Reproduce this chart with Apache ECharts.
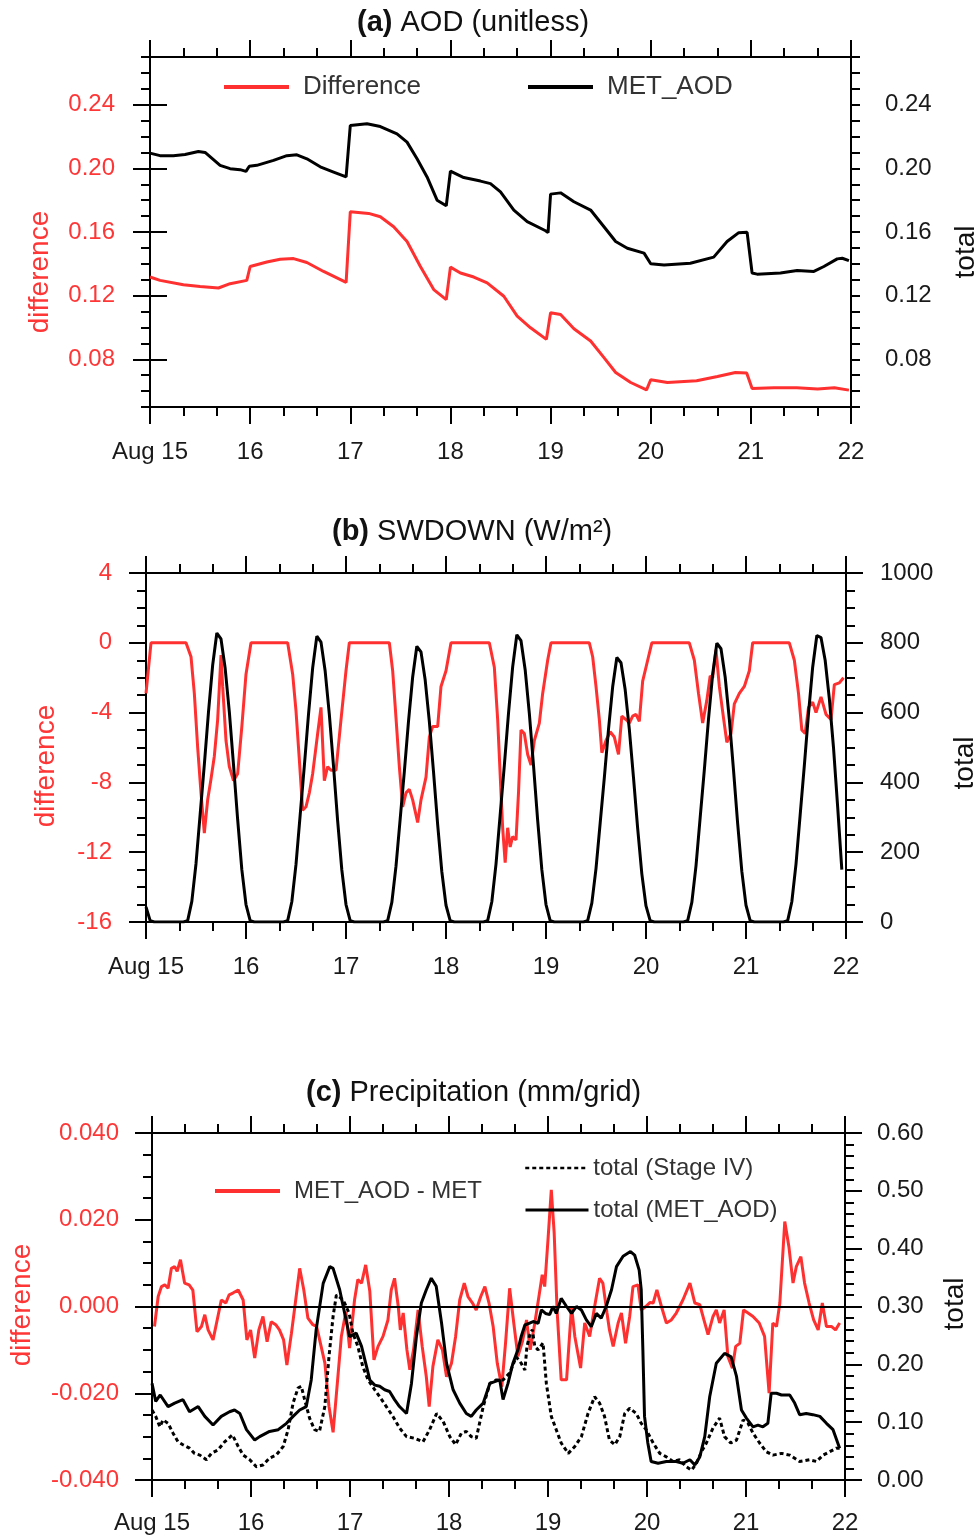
<!DOCTYPE html>
<html><head><meta charset="utf-8">
<script src="https://cdn.jsdelivr.net/npm/echarts@6/dist/echarts.min.js"></script>
<style>html,body{margin:0;padding:0;background:#fff}#c{width:979px;height:1538px}</style>
</head><body><div id="c"></div><script>
// ---------- tick labels ----------
const dayLabels = ['Aug 15','16','17','18','19','20','21','22'];
const aodTicks = [0.08, 0.12, 0.16, 0.20, 0.24];

// ---------- (a) AOD : [hour since Aug 15 00Z, value] ----------
const aodDiff = [[0,0.1317],[2.4,0.1296],[8,0.1269],[12,0.1258],[16.4,0.1248],[19.2,0.1275],[23.2,0.1296],[24,0.1383],[28,0.1411],[31.2,0.1429],[34.4,0.1433],[37.6,0.1408],[41.6,0.1352],[47,0.1283],[48,0.1727],[52.4,0.1717],[55.2,0.1696],[58.4,0.1633],[61.6,0.154],[64.8,0.1383],[68,0.1238],[71,0.1175],[72,0.1379],[74.4,0.1342],[77.6,0.1317],[80.8,0.128],[84.8,0.1196],[88,0.1071],[91.2,0.0998],[95,0.0925],[96,0.1092],[98.4,0.1081],[101.6,0.0992],[105.6,0.0915],[108.8,0.081],[111.6,0.0717],[115.2,0.0654],[119,0.0608],[120,0.0671],[124,0.0654],[131,0.0665],[136,0.0692],[140.3,0.0717],[143,0.0713],[144.3,0.0617],[149.5,0.0621],[155,0.0621],[160,0.0613],[164,0.0621],[167.5,0.0606]];
const aodMet = [[0,0.2096],[2.4,0.208],[5.6,0.208],[8.4,0.2087],[11.6,0.2106],[13.2,0.21],[16.8,0.2019],[19.2,0.1998],[21.6,0.1992],[23,0.1981],[23.8,0.2013],[25.6,0.2019],[29.6,0.205],[32.8,0.208],[35.2,0.2085],[37.6,0.206],[40.8,0.201],[44,0.1977],[47,0.1946],[48,0.2269],[52,0.228],[55.2,0.2263],[59.2,0.2217],[61.6,0.2165],[64,0.206],[66.4,0.1946],[68.8,0.18],[71,0.1765],[72,0.1983],[75.2,0.1942],[79.2,0.192],[81.6,0.1904],[84,0.1852],[87.2,0.1738],[90.4,0.1665],[94.8,0.1608],[95.4,0.1596],[96,0.1838],[98.4,0.1846],[101.6,0.179],[105.6,0.1738],[108.8,0.1633],[111.6,0.154],[114.4,0.1498],[118.4,0.1467],[120,0.14],[123.2,0.1392],[129.5,0.1404],[135.1,0.1442],[138.3,0.154],[141.1,0.1596],[143.1,0.1598],[144.3,0.1342],[145.5,0.1335],[151.1,0.1342],[155.1,0.1358],[159.1,0.1352],[161.5,0.1383],[164.7,0.1431],[165.9,0.1435],[167.5,0.142]];

// ---------- (b) SWDOWN ----------
const swDiff = [[0,-2.9],[1.2,0],[9.6,0],[10.8,-0.8],[11.6,-2.9],[12.4,-6.0],[13.2,-8.6],[14,-10.9],[14.8,-9.0],[15.6,-7.8],[16.4,-6.5],[17.2,-4.4],[18,-0.7],[18.4,-2.5],[19.2,-5.6],[20,-7.1],[21,-7.9],[22,-7.5],[23,-4.8],[24,-1.8],[25.2,0],
[34,0],[35.2,-1.8],[36,-3.9],[36.8,-6.7],[37.6,-9.6],[38.4,-9.4],[39.2,-8.6],[40,-7.5],[41.2,-5.2],[42,-3.7],[42.8,-7.9],[43.6,-7.1],[44.4,-7.3],[45.6,-7.3],[46.8,-4.4],[48,-1.6],[48.8,0],
[58.4,0],[59.2,-1.6],[60,-4.3],[60.8,-7.1],[61.6,-9.4],[62.4,-8.6],[63.2,-8.4],[64,-9.0],[65.2,-10.3],[66,-9.0],[67.2,-7.7],[68,-5.4],[68.8,-4.8],[70,-4.8],[70.8,-2.5],[72,-1.6],[73.2,0],
[82.4,0],[83.6,-1.4],[84.4,-4.4],[85.2,-8.6],[85.6,-10.6],[86.2,-12.6],[86.8,-10.6],[87.4,-11.7],[88,-11.1],[88.8,-11.3],[89.4,-8.6],[90,-5.0],[90.8,-5.2],[91.6,-6.4],[92.4,-7.0],[93.2,-5.6],[94.4,-4.6],[95.2,-2.9],[96.4,-1.0],[97.2,0],
[106.4,0],[107.2,-0.8],[108,-2.5],[108.8,-4.4],[109.4,-6.3],[110.4,-5.6],[111.4,-5.1],[112.4,-5.4],[113.4,-6.4],[114.2,-4.2],[115.2,-4.4],[116,-4.6],[116.8,-4.2],[117.6,-4.1],[118.4,-4.5],[119.2,-2.2],[120.4,-1.0],[121.4,0],
[130.4,0],[131.6,-1.0],[132.6,-2.9],[133.6,-4.6],[134.6,-3.3],[135.4,-1.9],[136,-2.0],[136.8,-0.4],[137.6,-2.5],[138.6,-4.3],[139.4,-5.7],[140.4,-5.2],[141.2,-3.5],[142.4,-2.9],[143.6,-2.5],[144.8,-1.6],[145.6,0],
[154.4,0],[155.6,-1.0],[156.6,-2.9],[157.4,-5.0],[158.2,-5.2],[159,-3.7],[160,-3.4],[160.8,-4.0],[162,-3.1],[163.2,-4.1],[164.4,-4.4],[165.2,-2.4],[166.4,-2.3],[167.4,-2.0]];
// hourly, h0 .. h167
const swMet = [
43,4,0,0,0,0,0,0,0,0,4,59,167,309,451,602,736,828,811,727,602,451,293,150,
50,4,0,0,0,0,0,0,0,0,4,58,165,306,447,595,728,819,802,719,595,447,289,149,
50,4,0,0,0,0,0,0,0,0,4,56,160,295,431,575,702,790,774,694,575,431,279,144,
48,4,0,0,0,0,0,0,0,0,4,58,166,307,449,598,731,823,806,723,598,449,291,150,
50,4,0,0,0,0,0,0,0,0,4,54,153,283,414,552,674,758,743,666,552,414,268,138,
46,4,0,0,0,0,0,0,0,0,4,56,161,299,436,581,710,799,783,702,581,436,282,145,
48,4,0,0,0,0,0,0,0,0,4,58,166,307,448,597,730,821,815,750,640,500,330,150];

// ---------- (c) Precipitation ----------
const precipDiff = [[0.6,-0.0046],[1.5,0.0023],[2.3,0.0046],[3.1,0.005],[3.9,0.0042],[4.7,0.0088],[5.5,0.0092],[6.1,0.0081],[6.9,0.0108],[7.9,0.0054],[9,0.005],[9.9,0.0038],[10.9,-0.0058],[12,-0.0046],[12.8,-0.0019],[13.6,-0.0054],[14.8,-0.0077],[15.8,-0.0031],[16.8,0.0015],[17.9,0.0008],[18.7,0.0027],[19.6,0.0031],[20.9,0.0038],[22.1,0.0015],[23,-0.0077],[23.9,-0.0054],[24.9,-0.0119],[25.9,-0.0054],[26.9,-0.0023],[27.9,-0.0081],[28.9,-0.0035],[30,-0.0042],[30.9,-0.0054],[31.9,-0.0077],[32.7,-0.0135],[33.8,-0.0062],[34.8,0.0012],[35.8,0.0088],[36.8,0.0038],[37.8,-0.0027],[39,-0.0042],[39.9,-0.0046],[41.9,-0.013],[42.9,-0.023],[43.9,-0.029],[44.9,-0.018],[45.9,-0.0069],[47,-0.0012],[47.9,-0.0096],[49.1,0.0015],[49.9,0.0062],[50.8,0.0054],[51.8,0.0096],[52.8,0.0035],[53.8,-0.0123],[54.8,-0.0092],[56,-0.0069],[57.2,-0.0031],[58,0.0038],[58.8,0.0065],[59.7,0],[60.2,-0.0054],[60.9,-0.0015],[61.8,-0.01],[62.5,-0.0146],[63.4,-0.01],[64.5,-0.0008],[65.5,-0.0092],[66.5,-0.0162],[67.2,-0.0231],[68.1,-0.0138],[69.3,-0.0077],[70.4,-0.01],[71.4,-0.0162],[72.6,-0.0131],[73.6,-0.0069],[74.6,0.0015],[75.7,0.0054],[76.6,0.0023],[77.7,0.0008],[78.6,-0.0008],[79.7,0.0023],[80.7,0.0046],[81.7,0.0008],[82.7,-0.0046],[83.7,-0.0131],[84.8,-0.0185],[85.7,-0.0085],[86.7,0.0042],[87.7,-0.0038],[88.7,-0.0115],[89.8,-0.0081],[90.8,-0.0031],[91.7,-0.01],[92.8,-0.0038],[93.8,0.0023],[94.6,0.0073],[95.2,0.0046],[96,0.0154],[96.8,0.0269],[97.5,0.0169],[98.2,-0.0008],[99.2,-0.0169],[100.5,-0.0169],[101.7,0],[102.5,-0.0069],[103.9,-0.0142],[104.9,-0.0038],[106.1,-0.0069],[107.3,0],[108.5,0.0065],[109.3,0.0054],[110.3,-0.0015],[110.9,-0.0054],[111.8,-0.0092],[113,-0.0038],[113.8,-0.0015],[114.8,-0.0085],[115.8,-0.0023],[116.6,0.0046],[117.8,0.005],[118.6,-0.0008],[119.7,0],[120.7,0.0009],[121.5,0.0008],[122.4,0.0038],[123.5,0],[124.7,-0.0038],[125.9,-0.0031],[127.1,-0.0015],[128.7,0.0015],[130.4,0.0054],[131.6,0.0008],[132.8,0.0004],[133.8,-0.0031],[134.8,-0.0065],[136,-0.0023],[136.8,-0.0008],[137.6,-0.0038],[138.7,-0.0008],[139.6,-0.0115],[140.7,-0.0142],[141.5,-0.0092],[142.5,-0.0085],[143.4,-0.0008],[144.5,-0.0015],[145.7,-0.0023],[147.2,-0.0038],[148.5,-0.0069],[149.6,-0.02],[150.5,-0.0038],[151.4,-0.0046],[152.2,0.0008],[153.4,0.0196],[154.4,0.0138],[155.4,0.0054],[156.2,0.0092],[157.3,0.0115],[158.2,0.0054],[159.3,0.0008],[160.4,-0.0031],[161.5,-0.0054],[162.5,0.0008],[163.5,-0.0046],[164.7,-0.0046],[165.7,-0.0054],[166.7,-0.0038]];
const precipMet = [[0,0.167],[0.9,0.136],[2,0.147],[3.9,0.127],[5.5,0.133],[7.5,0.139],[9.1,0.118],[11.2,0.127],[12.8,0.11],[14.8,0.095],[16.8,0.11],[18.8,0.118],[20,0.121],[21.3,0.115],[22.9,0.087],[24.9,0.069],[26.1,0.075],[28.5,0.084],[30.6,0.087],[32.6,0.098],[34.2,0.11],[35.8,0.121],[37.4,0.127],[38.6,0.173],[39.8,0.26],[41.5,0.34],[43.1,0.369],[43.9,0.366],[45.5,0.329],[47.9,0.248],[49.5,0.254],[50.8,0.231],[52.8,0.173],[54,0.164],[55.2,0.162],[56.4,0.156],[57.6,0.153],[58.8,0.139],[60,0.127],[61.7,0.115],[62.9,0.167],[64.1,0.248],[65.3,0.306],[66.5,0.329],[67.7,0.349],[68.9,0.335],[70.2,0.271],[71.4,0.202],[73,0.156],[74.6,0.133],[76.2,0.115],[77.4,0.11],[78.6,0.121],[80.3,0.133],[81.9,0.167],[83.1,0.17],[84.3,0.173],[85.1,0.139],[86.3,0.167],[87.5,0.202],[88.7,0.225],[89.5,0.248],[90.4,0.268],[91.4,0.271],[92.4,0.274],[93.6,0.271],[94.4,0.294],[95.4,0.288],[96.4,0.286],[97.2,0.30],[98,0.288],[99.2,0.314],[100.5,0.30],[101.7,0.288],[102.9,0.30],[104.1,0.294],[105.3,0.277],[106.5,0.265],[107.7,0.288],[108.9,0.28],[110.1,0.30],[111.4,0.329],[112.6,0.369],[114.2,0.387],[116,0.395],[117,0.389],[118.1,0.363],[118.6,0.329],[119,0.225],[119.4,0.11],[120.2,0.064],[121,0.032],[122.7,0.029],[124.7,0.032],[127.1,0.032],[128.7,0.029],[130.4,0.035],[131.6,0.026],[132.8,0.04],[134,0.075],[135.2,0.144],[136.8,0.202],[138.8,0.219],[140.4,0.213],[141.7,0.179],[142.9,0.121],[144.1,0.107],[145.7,0.092],[146.9,0.095],[148.1,0.092],[149.3,0.098],[150.1,0.15],[151.4,0.15],[152.6,0.147],[154.6,0.147],[155.8,0.133],[157,0.113],[158.6,0.115],[160.2,0.113],[161.9,0.11],[163.5,0.098],[165.1,0.087],[166.7,0.055]];
const precipObs = [[0,0.121],[0.9,0.11],[1.9,0.092],[2.7,0.104],[3.9,0.098],[5.1,0.081],[6.3,0.066],[7.5,0.061],[9.1,0.055],[10.3,0.046],[11.6,0.043],[13.2,0.035],[14.4,0.046],[16,0.052],[17.6,0.066],[19.5,0.078],[20.9,0.058],[22.1,0.043],[23.7,0.035],[25.3,0.023],[26.9,0.026],[28.5,0.038],[30.1,0.043],[31.8,0.058],[33,0.087],[34.2,0.133],[35.4,0.159],[36.2,0.162],[37,0.139],[38.2,0.107],[39.4,0.087],[40.6,0.084],[41.9,0.127],[42.9,0.213],[43.9,0.283],[44.7,0.32],[45.9,0.314],[46.7,0.306],[47.8,0.288],[48.7,0.254],[49.9,0.231],[51.1,0.196],[52.4,0.173],[54,0.156],[55.2,0.144],[56.8,0.127],[58.4,0.11],[60,0.09],[61.7,0.075],[63.7,0.072],[65.7,0.066],[67.3,0.087],[69,0.115],[70.6,0.101],[72.2,0.075],[73.6,0.061],[75,0.081],[76.2,0.084],[77.4,0.075],[78.6,0.072],[80.3,0.127],[81.9,0.167],[83.5,0.173],[85.1,0.173],[86.7,0.185],[88.3,0.213],[89.5,0.202],[90.4,0.19],[90.9,0.231],[91.6,0.251],[92.2,0.26],[92.8,0.231],[93.6,0.225],[94.8,0.237],[95.6,0.167],[96.8,0.11],[98,0.087],[99.2,0.064],[100.9,0.046],[102.5,0.058],[104.1,0.075],[105.7,0.115],[107.3,0.144],[108.5,0.133],[109.7,0.11],[110.9,0.069],[112.2,0.061],[113.4,0.075],[114.6,0.115],[115.8,0.124],[117.4,0.115],[118.6,0.098],[119.8,0.087],[121.5,0.064],[123.1,0.046],[124.7,0.04],[126.3,0.032],[127.9,0.035],[129.5,0.023],[130.8,0.017],[132,0.029],[133.2,0.049],[134.4,0.064],[136,0.09],[137.6,0.107],[138.8,0.075],[140.3,0.064],[141.7,0.069],[143.3,0.104],[144.5,0.098],[145.7,0.081],[147.3,0.064],[148.9,0.049],[150.5,0.043],[152.6,0.046],[154.6,0.043],[157,0.032],[159.4,0.035],[161.1,0.032],[162.7,0.043],[164.3,0.049],[165.9,0.055],[166.7,0.055]];

// ---------- styling ----------
const FONT = "'Liberation Sans', Arial, Helvetica, sans-serif";
const RED = '#ff3030';
const RED_TXT = '#ff3636';
const INK = '#1a1a1a';
const LW = 2;
const SW = 3;

function xAxes(grid, margin) {
  const base = {type:'value', gridIndex:grid, min:0, max:168, interval:24,
    axisLine:{show:true, onZero:false, lineStyle:{color:'#000', width:LW}},
    axisTick:{show:true, length:17, lineStyle:{color:'#000', width:LW}},
    minorTick:{show:true, splitNumber:3, length:9, lineStyle:{color:'#000', width:LW}},
    splitLine:{show:false}, minorSplitLine:{show:false}};
  return [
    Object.assign({}, base, {position:'bottom',
      axisLabel:{show:true, margin:margin, fontSize:24, color:INK, fontFamily:FONT,
        showMinLabel:true, showMaxLabel:true,
        formatter:v => dayLabels[Math.round(v/24)]}}),
    Object.assign({}, base, {position:'top', axisLabel:{show:false}})
  ];
}
function yAxis(grid, pos, o) {
  return Object.assign({type:'value', gridIndex:grid, position:pos,
    axisLine:{show:true, onZero:false, lineStyle:{color:'#000', width:LW}},
    axisTick:{show:true, length:17, lineStyle:{color:'#000', width:LW}},
    splitLine:{show:false}}, o);
}
const tickMinor = {show:true, length:9, lineStyle:{color:'#000', width:LW}};

const yAxes = [
  // grid 0 (a): minor tick axes and labelled major axes, both sides share scale
  yAxis(0,'left',{min:0.05,max:0.27,interval:0.01, axisTick:tickMinor, axisLabel:{show:false}}),
  yAxis(0,'left',{min:0.05,max:0.27, axisLine:{show:false},
    axisTick:{show:true, customValues:aodTicks, length:17, lineStyle:{color:'#000', width:LW}},
    axisLabel:{show:true, customValues:aodTicks, margin:35, fontSize:24, color:RED_TXT, fontFamily:FONT, formatter:v=>v.toFixed(2)}}),
  yAxis(0,'right',{min:0.05,max:0.27,interval:0.01, axisTick:tickMinor, axisLabel:{show:false}}),
  yAxis(0,'right',{min:0.05,max:0.27, axisLine:{show:false},
    axisTick:{show:true, customValues:aodTicks, length:17, lineStyle:{color:'#000', width:LW}},
    axisLabel:{show:true, customValues:aodTicks, margin:34, fontSize:24, color:INK, fontFamily:FONT, formatter:v=>v.toFixed(2)}}),
  // grid 1 (b)
  yAxis(1,'left',{min:-16,max:4,interval:4,
    minorTick:{show:true, splitNumber:4, length:9, lineStyle:{color:'#000', width:LW}},
    axisLabel:{margin:34, fontSize:24, color:RED_TXT, fontFamily:FONT, formatter:v=>String(v)}}),
  yAxis(1,'right',{min:0,max:1000,interval:200,
    minorTick:{show:true, splitNumber:4, length:9, lineStyle:{color:'#000', width:LW}},
    axisLabel:{margin:34, fontSize:24, color:INK, fontFamily:FONT, formatter:v=>String(v)}}),
  // grid 2 (c)
  yAxis(2,'left',{min:-0.04,max:0.04,interval:0.02,
    minorTick:{show:true, splitNumber:4, length:9, lineStyle:{color:'#000', width:LW}},
    axisLabel:{margin:33, fontSize:24, color:RED_TXT, fontFamily:FONT, formatter:v=>v.toFixed(3)}}),
  yAxis(2,'right',{min:0,max:0.6,interval:0.1,
    minorTick:{show:true, splitNumber:5, length:9, lineStyle:{color:'#000', width:LW}},
    axisLabel:{margin:32, fontSize:24, color:INK, fontFamily:FONT, formatter:v=>v.toFixed(2)}})
];

function ser(name, data, x, y, color, extra) {
  return Object.assign({name:name, type:'line', data:data, xAxisIndex:x, yAxisIndex:y,
    symbol:'none', showSymbol:false, animation:false, silent:true,
    lineStyle:{color:color, width:SW}, itemStyle:{color:color}}, extra||{});
}

function leg(name, left, cy, fs, pad, iw, lw) {
  return {data:[name], left:left, top:cy - fs/2, orient:'horizontal', padding:0,
    itemWidth:iw || 65, itemHeight:4, selectedMode:false,
    itemStyle:{opacity:0, borderWidth:0}, lineStyle:{width:lw || 4},
    textStyle:{fontSize:fs, color:'#333', fontFamily:FONT, padding:[0,0,0,pad]}};
}

function titleOpt(text, left, top) {
  return {text:text, left:left, top:top, padding:0,
    textStyle:{fontSize:29, fontWeight:'normal', color:'#111', fontFamily:FONT,
      rich:{b:{fontSize:29, fontWeight:'bold', color:'#111', fontFamily:FONT}}}};
}
function axisName(text, x, y, color) {
  return {type:'text', x:x, y:y, rotation:Math.PI/2, silent:true,
    style:{text:text, fill:color, fontSize:28, fontFamily:FONT, align:'center', verticalAlign:'middle'}};
}

const chart = echarts.init(document.getElementById('c'), null, {renderer:'canvas'});
chart.setOption({
  animation:false,
  backgroundColor:'#fff',
  title:[
    titleOpt('{b|(a)} AOD (unitless)', 357, 8),
    titleOpt('{b|(b)} SWDOWN (W/m²)', 332, 517),
    titleOpt('{b|(c)} Precipitation (mm/grid)', 306, 1078)
  ],
  legend:[
    leg('Difference', 222, 87, 26, 9),
    leg('MET_AOD', 526, 87, 26, 9),
    leg('MET_AOD - MET', 213, 1191, 24, 9),
    leg('total (Stage IV)', 524, 1168, 24, 0, 63, 2.5),
    leg('total (MET_AOD)', 524, 1210, 24, 0, 63, 3)
  ],
  grid:[
    {left:150, top:57, width:701, height:350},
    {left:146, top:573, width:700, height:349},
    {left:152, top:1133, width:693, height:347}
  ],
  xAxis:[].concat(xAxes(0,33), xAxes(1,33), xAxes(2,31)),
  yAxis:yAxes,
  series:[
    ser('Difference', aodDiff, 0, 0, RED),
    ser('MET_AOD', aodMet, 0, 2, '#000'),
    ser('Difference', swDiff, 2, 4, RED),
    ser('MET_AOD', swMet.map((v,i)=>[i,v]), 2, 5, '#000'),
    ser('MET_AOD - MET', precipDiff, 4, 6, RED, {
      markLine:{silent:true, symbol:'none', animation:false,
        lineStyle:{color:'#000', width:2, type:'solid'}, label:{show:false},
        data:[{yAxis:0}]}}),
    ser('total (Stage IV)', precipObs, 4, 7, '#000', {lineStyle:{color:'#000', width:SW, type:[4,3]}}),
    ser('total (MET_AOD)', precipMet, 4, 7, '#000')
  ],
  graphic:[
    axisName('difference', 40, 272, RED_TXT),
    axisName('total', 966, 252, '#111'),
    axisName('difference', 46, 766, RED_TXT),
    axisName('total', 965, 763, '#111'),
    axisName('difference', 22, 1305, RED_TXT),
    axisName('total', 955, 1304, '#111')
  ]
});
</script></body></html>
